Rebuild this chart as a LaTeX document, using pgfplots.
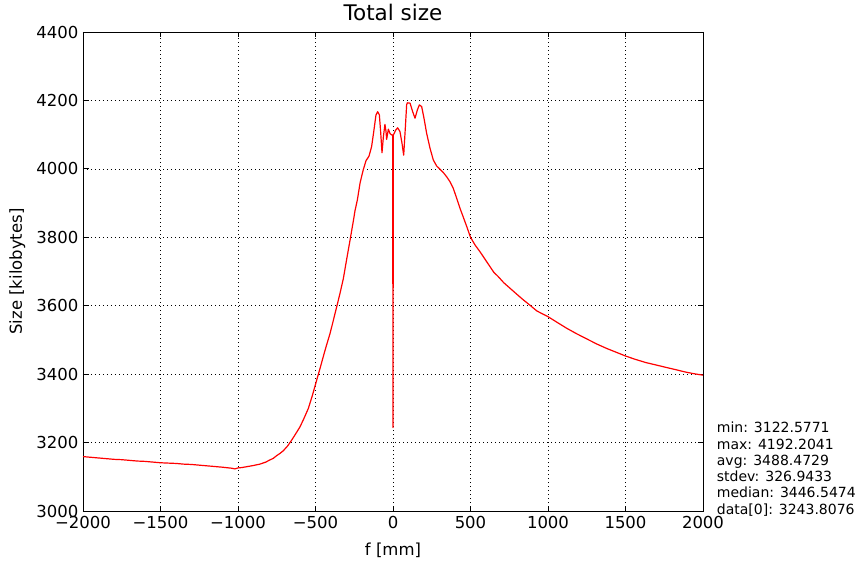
\documentclass[border=0pt]{standalone}
\usepackage{fontspec}
\setmainfont{DejaVu Sans}
\usepackage{pgfplots}
\pgfplotsset{compat=1.18}
\pgfplotstableread{
x y
-2000 3159
-1950 3157
-1900 3155
-1850 3153
-1800 3151
-1750 3150
-1700 3148
-1650 3146
-1600 3145
-1550 3143
-1500 3141
-1450 3140
-1400 3139
-1350 3137
-1300 3136
-1250 3134
-1200 3132
-1150 3130
-1100 3128
-1060 3126
-1040 3125
-1020 3123
-1000 3126
-975 3127
-950 3129
-925 3131
-900 3133
-880 3135
-858 3137
-840 3140
-820 3143
-800 3148
-772 3154
-750 3162
-730 3168
-708 3176
-680 3190
-654 3207
-630 3224
-600 3246
-575 3270
-546 3300
-520 3338
-492 3383
-470 3418
-450 3451
-430 3483
-406 3519
-385 3557
-363 3597
-340 3640
-320 3680
-300 3733
-277 3792
-255 3850
-245 3878
-230 3909
-212 3960
-192 3997
-174 4024
-155 4037
-138 4065
-123 4113
-110 4157
-99 4167
-88 4158
-79 4104
-71 4047
-62 4094
-52 4130
-45 4109
-41 4086
-30 4116
-19 4103
-8 4099
-2 4099
0 3243.8
2 4100
6 4102
17 4113
30 4120
45 4109
58 4075
69 4040
80 4123
88 4187
92 4193
110 4192
127 4167
142 4148
157 4172
170 4187
185 4182
200 4148
217 4104
239 4060
260 4026
282 4008
303 3999
325 3989
346 3977
368 3962
389 3943
410 3915
432 3885
455 3857
476 3831
500 3800
530 3777
561 3758
595 3735
626 3714
650 3698
679 3685
715 3667
755 3651
800 3633
841 3617
885 3601
927 3585
965 3576
1000 3568
1060 3551
1121 3534
1185 3518
1250 3503
1315 3488
1379 3475
1440 3464
1500 3453
1565 3443
1630 3434
1695 3427
1759 3420
1825 3413
1888 3406
1945 3401
2000 3397
}\datatable
\begin{document}
\begin{tikzpicture}
\useasboundingbox (-83pt,-59pt) rectangle (778pt,511pt);
\begin{axis}[
  at={(0pt,0pt)}, anchor=south west,
  scale only axis, width=620pt, height=479pt,
  xmin=-2000, xmax=2000, ymin=3000, ymax=4400,
  xtick={-2000,-1500,-1000,-500,0,500,1000,1500,2000},
  xticklabels={−2000,−1500,−1000,−500,0,500,1000,1500,2000},
  ytick={3000,3200,3400,3600,3800,4000,4200,4400},
  /pgf/number format/assume math mode=true,
  /pgf/number format/1000 sep={},
  tick label style={font=\fontsize{16.5}{19}\selectfont},
  xticklabel style={yshift=-2pt},
  yticklabel style={xshift=-1pt},
  title={Total size},
  title style={at={(axis description cs:0.5,1.0125)}, anchor=base, yshift=0pt, font=\fontsize{21.5}{25}\selectfont},
  xlabel={f [mm]},
  xlabel style={at={(axis description cs:0.5,-0.0939)}, anchor=base, font=\fontsize{16.5}{19}\selectfont},
  ylabel={Size [kilobytes]},
  ylabel style={at={(axis description cs:-0.0984,0.5)}, anchor=base, font=\fontsize{16.5}{19}\selectfont},
  grid=major,
  major grid style={black, line width=0.6pt, dash pattern=on 1pt off 3pt},
  tick align=inside, tick pos=both, major tick length=5.5pt,
  every tick/.style={black, line width=0.8pt},
  axis line style={black, line width=0.9pt},
  clip=true,
]
\addplot[red, line width=1.2pt, line join=round] table[x=x,y=y] {\datatable};
\end{axis}
\begin{scope}[every node/.style={anchor=base west, inner sep=0pt, font=\fontsize{14}{16.3}\selectfont}]
\node at (633.7pt,78.3pt) {min: 3122.5771};
\node at (633.7pt,62pt) {max: 4192.2041};
\node at (633.7pt,45.7pt) {avg: 3488.4729};
\node at (633.7pt,29.4pt) {stdev: 326.9433};
\node at (633.7pt,13.1pt) {median: 3446.5474};
\node at (633.7pt,-3.2pt) {data[0]: 3243.8076};
\end{scope}
\end{tikzpicture}
\end{document}
